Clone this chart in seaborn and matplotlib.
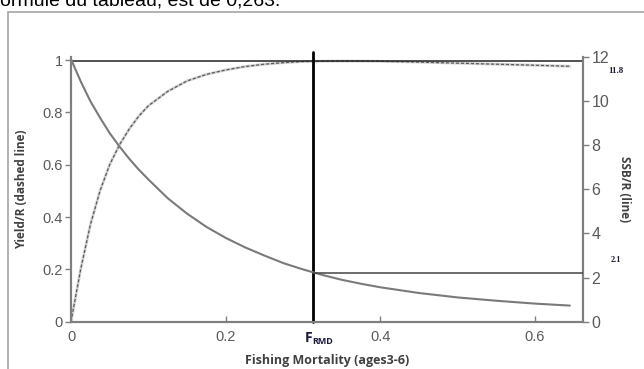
import matplotlib
matplotlib.use("Agg")
import matplotlib.pyplot as plt
import seaborn as sns
import pandas as pd
from matplotlib.patches import Rectangle

# ---- data ----
fishing_mortality = [0, 0.0125, 0.025, 0.0375, 0.05, 0.0625, 0.075, 0.0875, 0.1,
                     0.125, 0.15, 0.175, 0.2, 0.225, 0.25, 0.275, 0.3, 0.325,
                     0.35, 0.375, 0.4, 0.45, 0.5, 0.55, 0.6, 0.645]
yield_per_recruit = [0, 0.2, 0.37, 0.5, 0.6, 0.675, 0.735, 0.785, 0.825,
                     0.88, 0.92, 0.945, 0.962, 0.975, 0.984, 0.99, 0.994, 0.9955,
                     0.996, 0.9958, 0.995, 0.992, 0.988, 0.984, 0.980, 0.976]
ssb_per_recruit = [11.9, 10.9, 10.0, 9.25, 8.55, 7.95, 7.4, 6.9, 6.45,
                   5.6, 4.9, 4.3, 3.8, 3.37, 3.0, 2.65, 2.37, 2.12,
                   1.9, 1.72, 1.56, 1.3, 1.1, 0.95, 0.82, 0.73]
f_rmd = 0.3125
yield_max = 0.995
ssb_at_frmd = 2.2
x_ticks = [0, 0.2, 0.4, 0.6]
y_left_ticks = [0, 0.2, 0.4, 0.6, 0.8, 1]
y_right_ticks = [0, 2, 4, 6, 8, 10, 12]

df = pd.DataFrame({"F": fishing_mortality, "Yield": yield_per_recruit, "SSB": ssb_per_recruit})

sns.set_style("white")
plt.rcParams['font.family'] = ['Liberation Sans Narrow', 'Liberation Sans', 'DejaVu Sans']

fig = plt.figure(figsize=(6.44, 3.69), dpi=100)
W, H = 644, 369
ax = fig.add_axes([71 / W, (H - 321.7) / H, (583 - 71) / W, (321.7 - 57) / H])
ax2 = ax.twinx()

# frame around the figure image
fig.patches.append(Rectangle((7.5 / W, -0.05), 1.2, (H - 11.7) / H + 0.05,
                             transform=fig.transFigure, fill=False,
                             edgecolor='#a6a6a6', lw=1.2))
# cropped document text at top
fig.text(0.0, (H - 5) / H, "ormule du tableau, est de 0,263.", fontsize=14,
         family=['Liberation Sans', 'DejaVu Sans'], color='black', va='baseline', ha='left')

# Yield curve (dashed)
sns.lineplot(data=df, x="F", y="Yield", ax=ax, color='#d2d2d2', lw=2.0, legend=False)
sns.lineplot(data=df, x="F", y="Yield", ax=ax, color='#5a5a5a', lw=0.9,
             linestyle=(0, (2.5, 1.5)), legend=False)
# SSB curve (solid)
sns.lineplot(data=df, x="F", y="SSB", ax=ax2, color='#7a7a7a', lw=1.5, legend=False)

xmax = 0.662
ax.set_xlim(0, xmax)
ax.set_ylim(0, 1.0115)
ax2.set_ylim(0, 12)

# reference lines
ax.plot([0, xmax], [yield_max, yield_max], color='#222222', lw=1.1, zorder=5)
ax2.plot([f_rmd, xmax], [ssb_at_frmd, ssb_at_frmd], color='#444444', lw=1.1, zorder=5)
ax.plot([f_rmd, f_rmd], [0, 1.03], color='black', lw=2.0, zorder=6, clip_on=False)

# spines
for a in (ax, ax2):
    a.spines['top'].set_visible(False)
    for s in ('left', 'right', 'bottom'):
        a.spines[s].set_color('#7f7f7f')
        a.spines[s].set_linewidth(1.5)

tick_col = '#595959'
ax.set_xticks(x_ticks)
ax.set_xticklabels([f"{v:g}" for v in x_ticks])
ax.set_yticks(y_left_ticks)
ax.set_yticklabels([f"{v:g}" for v in y_left_ticks])
ax2.set_yticks(y_right_ticks)
ax2.set_yticklabels([f"{v:g}" for v in y_right_ticks])
ax.tick_params(axis='x', direction='in', length=4, width=1, color='#7f7f7f',
               labelsize=10.5, labelcolor=tick_col, pad=6, bottom=True)
ax.tick_params(axis='y', direction='out', length=4, width=1, color='#7f7f7f',
               labelsize=10.5, labelcolor=tick_col, pad=2, left=True)
ax2.tick_params(axis='y', direction='out', length=4, width=1, color='#7f7f7f',
                labelsize=11.5, labelcolor=tick_col, pad=2, right=True)

lab_font = ['Open Sans', 'DejaVu Sans']
ax.set_xlabel("Fishing Mortality (ages3-6)", fontsize=9, fontweight='bold',
              family=lab_font, color='#404040', labelpad=7)
ax.set_ylabel("Yield/R (dashed line)", fontsize=8.5, fontweight='bold',
              family=lab_font, color='#404040', labelpad=10)
ax2.set_ylabel("SSB/R (line)", fontsize=8.5, fontweight='bold', family=lab_font,
               color='#404040', rotation=270, labelpad=16)

# annotations
ax2.text(0.705, 11.35, "11.8", fontsize=6.5, fontweight='bold', family=['Liberation Serif', 'DejaVu Serif'],
         color='#1a1a33', clip_on=False, ha='center', va='center')
ax2.text(0.705, 2.8, "2.1", fontsize=6, fontweight='bold', family=['Liberation Serif', 'DejaVu Serif'],
         color='#1a1a33', clip_on=False, ha='center', va='center')
ax.text(f_rmd, -0.035, "F", fontsize=10, fontweight='bold', color='#1a1a40',
        ha='right', va='top', family=lab_font, clip_on=False)
ax.text(f_rmd, -0.06, "RMD", fontsize=6.5, fontweight='bold', color='#1a1a40',
        ha='left', va='top', family=lab_font, clip_on=False)

fig.savefig("out.png", dpi=100)
